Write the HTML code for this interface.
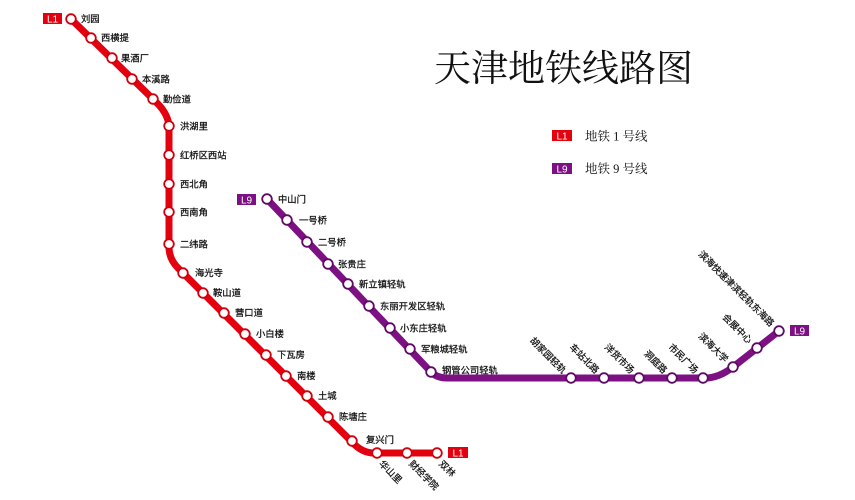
<!DOCTYPE html>
<html>
<head>
<meta charset="utf-8">
<style>
  html,body{margin:0;padding:0;background:#fff;}
  svg{display:block;}
  .st{font-family:"Liberation Sans","Noto Sans CJK SC",sans-serif;font-size:9.3px;fill:#111;stroke:#111;stroke-width:0.25px;}
  .bx{font-family:"Liberation Sans",sans-serif;font-size:10px;fill:#fff;text-anchor:middle;}
  .lg{font-family:"Liberation Serif","Noto Serif CJK SC",serif;font-size:12.5px;fill:#111;}
</style>
</head>
<body>
<svg width="855" height="500" viewBox="0 0 855 500" xmlns="http://www.w3.org/2000/svg">
  <rect width="855" height="500" fill="#fff"/>

  <!-- Title -->
  <text x="434" y="81" font-family="'Liberation Serif','Noto Serif CJK SC',serif" font-size="37" fill="#111">天津地铁线路图</text>

  <!-- Legend -->
  <rect x="552" y="130" width="20" height="11" fill="#e3000f"/>
  <text x="562" y="139.5" class="bx">L1</text>
  <text x="585" y="140.5" class="lg">地铁 1 号线</text>
  <rect x="552" y="163" width="20" height="11" fill="#7d1083"/>
  <text x="562" y="172.5" class="bx">L9</text>
  <text x="585" y="173" class="lg">地铁 9 号线</text>

  <!-- L1 line -->
  <path d="M71,19 L157,103 Q169,115 169,128 L169,247 Q169,259 178,268 L354,444 Q363,453 374,453 L437,453" fill="none" stroke="#e3000f" stroke-width="7" stroke-linejoin="round"/>
  <!-- L9 line -->
  <path d="M267,199 L431,372 Q437,378 447,378 L705,378 Q719,378 733,367 L779,331" fill="none" stroke="#7d1083" stroke-width="7" stroke-linejoin="round"/>

  <!-- L1 boxes -->
  <rect x="43" y="13" width="19" height="11" fill="#e3000f"/>
  <text x="52.5" y="22.5" class="bx">L1</text>
  <rect x="448" y="447" width="20" height="11" fill="#e3000f"/>
  <text x="458" y="456.5" class="bx">L1</text>
  <!-- L9 boxes -->
  <rect x="237" y="194" width="19" height="11" fill="#7d1083"/>
  <text x="246.5" y="203.5" class="bx">L9</text>
  <rect x="790" y="325" width="19" height="11" fill="#7d1083"/>
  <text x="799.5" y="334.5" class="bx">L9</text>

  <!-- L1 stations -->
  <g fill="#fff" stroke="#d0000c" stroke-width="1.8">
    <circle cx="71" cy="19" r="4.8"/>
    <circle cx="91" cy="38" r="4.8"/>
    <circle cx="112" cy="58" r="4.8"/>
    <circle cx="132" cy="79" r="4.8"/>
    <circle cx="153" cy="99" r="4.8"/>
    <circle cx="169" cy="126" r="4.8"/>
    <circle cx="169" cy="155" r="4.8"/>
    <circle cx="169" cy="184" r="4.8"/>
    <circle cx="169" cy="212" r="4.8"/>
    <circle cx="169" cy="244" r="4.8"/>
    <circle cx="183" cy="273" r="4.8"/>
    <circle cx="203" cy="293" r="4.8"/>
    <circle cx="224" cy="313" r="4.8"/>
    <circle cx="245" cy="334" r="4.8"/>
    <circle cx="266" cy="355" r="4.8"/>
    <circle cx="286" cy="376" r="4.8"/>
    <circle cx="307" cy="396" r="4.8"/>
    <circle cx="328" cy="417" r="4.8"/>
    <circle cx="352" cy="441" r="4.8"/>
    <circle cx="377" cy="453" r="4.8"/>
    <circle cx="407" cy="453" r="4.8"/>
    <circle cx="437" cy="453" r="4.8"/>
  </g>
  <g class="st">
    <text x="81" y="22">刘园</text>
    <text x="101" y="41">西横提</text>
    <text x="121" y="61.5">果酒厂</text>
    <text x="142" y="82.5">本溪路</text>
    <text x="163" y="102.5">勤俭道</text>
    <text x="180" y="129.5">洪湖里</text>
    <text x="180" y="158.5">红桥区西站</text>
    <text x="180" y="187.5">西北角</text>
    <text x="180" y="215.5">西南角</text>
    <text x="180" y="247.5">二纬路</text>
    <text x="195" y="276">海光寺</text>
    <text x="213" y="296">鞍山道</text>
    <text x="235" y="316">营口道</text>
    <text x="256" y="337">小白楼</text>
    <text x="277" y="358">下瓦房</text>
    <text x="297" y="379">南楼</text>
    <text x="318" y="399">土城</text>
    <text x="339" y="420">陈塘庄</text>
    <text x="366" y="443">复兴门</text>
    <text transform="translate(377,453) rotate(45)" x="9" y="7">华山里</text>
    <text transform="translate(407,453) rotate(45)" x="9" y="7">财经学院</text>
    <text transform="translate(437,453) rotate(45)" x="9" y="7">双林</text>
  </g>

  <!-- L9 stations -->
  <g fill="#fff" stroke="#5e0a66" stroke-width="1.8">
    <circle cx="267" cy="199" r="4.8"/>
    <circle cx="287" cy="220" r="4.8"/>
    <circle cx="307" cy="242" r="4.8"/>
    <circle cx="328" cy="264" r="4.8"/>
    <circle cx="348" cy="284" r="4.8"/>
    <circle cx="369" cy="306" r="4.8"/>
    <circle cx="390" cy="328" r="4.8"/>
    <circle cx="410" cy="349" r="4.8"/>
    <circle cx="431" cy="372" r="4.8"/>
    <circle cx="571" cy="378" r="4.8"/>
    <circle cx="604" cy="378" r="4.8"/>
    <circle cx="639" cy="378" r="4.8"/>
    <circle cx="672" cy="378" r="4.8"/>
    <circle cx="703" cy="378" r="4.8"/>
    <circle cx="733" cy="367" r="4.8"/>
    <circle cx="757" cy="348" r="4.8"/>
    <circle cx="779" cy="331" r="4.8"/>
  </g>
  <g class="st">
    <text x="278" y="202.5">中山门</text>
    <text x="299" y="223.5">一号桥</text>
    <text x="318" y="245.5">二号桥</text>
    <text x="338" y="267.5">张贵庄</text>
    <text x="359" y="287.5">新立镇轻轨</text>
    <text x="380" y="309.5">东丽开发区轻轨</text>
    <text x="400" y="331.5">小东庄轻轨</text>
    <text x="421" y="352.5">军粮城轻轨</text>
    <text x="442" y="373.5">钢管公司轻轨</text>
    <g text-anchor="end">
      <text transform="translate(571,378) rotate(45)" x="-9" y="3.4">胡家园轻轨</text>
      <text transform="translate(604,378) rotate(45)" x="-9" y="3.4">车站北路</text>
      <text transform="translate(639,378) rotate(45)" x="-9" y="3.4">洋货市场</text>
      <text transform="translate(672,378) rotate(45)" x="-9" y="3.4">洞庭路</text>
      <text transform="translate(703,378) rotate(45)" x="-9" y="3.4">市民广场</text>
      <text transform="translate(733,367) rotate(45)" x="-9" y="3.4">滨海大学</text>
      <text transform="translate(757,348) rotate(45)" x="-9" y="3.4">会展中心</text>
      <text transform="translate(779,331) rotate(45)" x="-9" y="3.4">滨海快速津滨轻轨东海路</text>
    </g>
  </g>
</svg>
</body>
</html>
